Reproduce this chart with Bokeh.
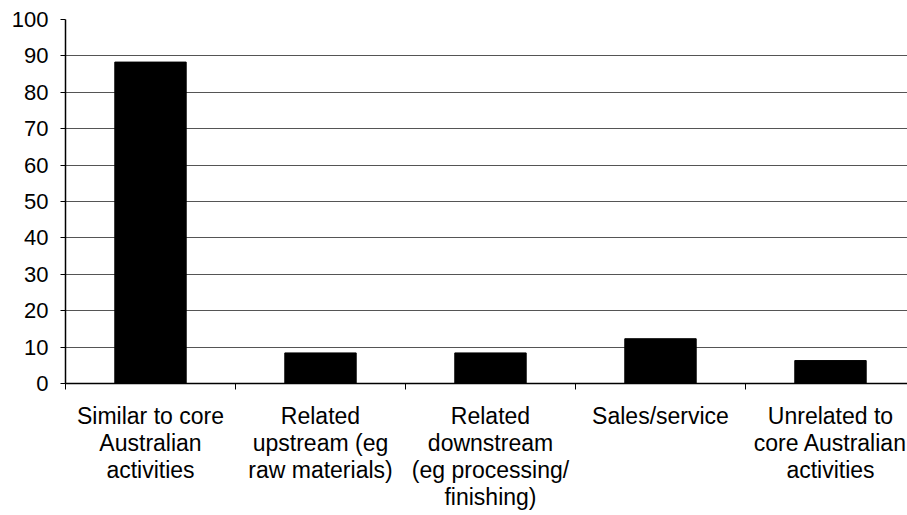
from bokeh.plotting import figure
from bokeh.models import FixedTicker, Range1d, ColumnDataSource
from bokeh.embed import file_html
from bokeh.resources import INLINE

categories = [
    "Similar to core\nAustralian\nactivities",
    "Related\nupstream (eg\nraw materials)",
    "Related\ndownstream\n(eg processing/\nfinishing)",
    "Sales/service",
    "Unrelated to\ncore Australian\nactivities",
]
values = [88.3, 8.4, 8.4, 12.3, 6.3]
y_ticks = list(range(0, 101, 10))

xs = [i + 0.5 for i in range(len(categories))]
src = ColumnDataSource(dict(x=xs, top=values))

p = figure(width=907, height=515, output_backend="svg", toolbar_location=None,
           x_range=Range1d(0, 4.953), y_range=Range1d(0, 100),
           min_border_left=65, min_border_right=0, min_border_top=19,
           min_border_bottom=132)
p.outline_line_color = None
p.background_fill_color = "white"

p.vbar(x="x", top="top", bottom=0, width=0.42, source=src,
       fill_color="black", line_color="black")

p.xgrid.visible = False
p.ygrid.ticker = FixedTicker(ticks=y_ticks)
p.ygrid.grid_line_color = "#555555"
p.ygrid.grid_line_width = 1

p.yaxis.ticker = FixedTicker(ticks=y_ticks)
p.yaxis.axis_line_color = "black"
p.yaxis.axis_line_width = 1.5
p.yaxis.major_tick_line_color = "black"
p.yaxis.major_tick_in = 0
p.yaxis.major_tick_out = 5
p.yaxis.minor_tick_line_color = None
p.yaxis.major_label_text_font = "Liberation Sans"
p.yaxis.major_label_text_font_size = "22px"
p.yaxis.major_label_text_color = "black"
p.yaxis.major_label_standoff = 12

p.xaxis.ticker = FixedTicker(ticks=xs, minor_ticks=list(range(len(categories) + 1)))
p.xaxis.major_label_overrides = {x: c for x, c in zip(xs, categories)}
p.xaxis.axis_line_color = "black"
p.xaxis.axis_line_width = 1.5
p.xaxis.major_tick_line_color = None
p.xaxis.minor_tick_line_color = "black"
p.xaxis.minor_tick_in = 0
p.xaxis.minor_tick_out = 6
p.xaxis.major_label_text_font = "Liberation Sans"
p.xaxis.major_label_text_font_size = "23px"
p.xaxis.major_label_text_color = "black"
p.xaxis.major_label_text_line_height = 1.05
p.xaxis.major_label_standoff = 13

open("out.html", "w").write(file_html(p, INLINE))
